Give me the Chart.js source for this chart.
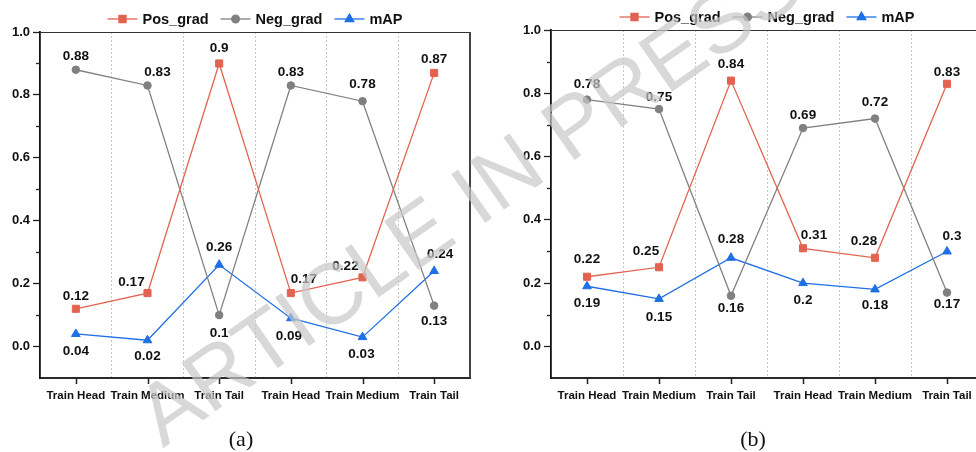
<!DOCTYPE html>
<html>
<head>
<meta charset="utf-8">
<script src="https://cdn.jsdelivr.net/npm/chart.js@4.4.0/dist/chart.umd.min.js"></script>
<style>
  html, body { margin: 0; padding: 0; background: #fff; }
  body { width: 976px; height: 452px; overflow: hidden; position: relative; }
  .panel { position: absolute; top: 0; height: 452px; }
  #panelA { left: 0; width: 490px; }
  #panelB { left: 511px; width: 480px; }
  .cap { position: absolute; top: 426px; transform: translateX(-50%);
         font-family: "Liberation Serif", "DejaVu Serif", serif; font-size: 22px; color: #111; line-height: 26px; }
  #stamp { position: absolute; left: 468px; top: 198px; white-space: nowrap;
           transform: translate(-50%, -50%) rotate(-35deg);
           font-family: "Liberation Sans", Arial, sans-serif; font-size: 86px; font-weight: 400;
           color: rgba(200, 200, 200, 0.7); pointer-events: none; z-index: 5; line-height: 1; }
</style>
</head>
<body>
<div class="panel" id="panelA"><canvas id="chartA" width="490" height="452"></canvas></div>
<div class="panel" id="panelB"><canvas id="chartB" width="480" height="452"></canvas></div>
<div class="cap" style="left:241px">(a)</div>
<div class="cap" style="left:753px">(b)</div>
<div id="stamp">ARTICLE IN PRESS</div>
<script>
// Categories and tick labels shared by both panels
const categories = ['Train Head', 'Train Medium', 'Train Tail', 'Train Head', 'Train Medium', 'Train Tail'];
const yTickValues = [0.0, 0.2, 0.4, 0.6, 0.8, 1.0];
const yMinorValues = [0.1, 0.3, 0.5, 0.7, 0.9];

// Panel (a)
const posGradA = [0.12, 0.17, 0.9, 0.17, 0.22, 0.87];
const negGradA = [0.88, 0.83, 0.1, 0.83, 0.78, 0.13];
const mapA     = [0.04, 0.02, 0.26, 0.09, 0.03, 0.24];

// Panel (b)
const posGradB = [0.22, 0.25, 0.84, 0.31, 0.28, 0.83];
const negGradB = [0.78, 0.75, 0.16, 0.69, 0.72, 0.17];
const mapB     = [0.19, 0.15, 0.28, 0.2, 0.18, 0.3];

// Value-label placement (dx, dy from the point) for each series
const labelShiftA = {
  pos: [[0,-13],[-16,-11],[0,-15],[13,-14],[-17,-11],[0,-14]],
  neg: [[0,-13],[10,-13],[0,18],[0,-13],[0,-17],[0,16]],
  map: [[0,17],[0,16],[0,-17],[-2,18],[-1,17],[6,-17]]
};
const labelShiftB = {
  pos: [[0,-17],[-13,-16],[0,-16],[11,-13],[-11,-17],[0,-12]],
  neg: [[0,-15],[0,-12],[0,13],[0,-13],[0,-16],[0,12]],
  map: [[0,17],[0,18],[0,-19],[0,17],[0,16],[5,-15]]
};

const RED = '#E2634F', GRAY = '#808080', BLUE = '#1F6FE5';
const FONT = '"Liberation Sans", Arial, sans-serif';

// Axis decorations: minor y ticks, x ticks at category centres, top/right frame
const framePlugin = {
  id: 'frame',
  afterDraw(chart) {
    const { ctx, chartArea: a, scales: { x, y } } = chart;
    ctx.save();
    ctx.strokeStyle = '#222';
    ctx.lineWidth = 1.3;
    yMinorValues.forEach(v => {
      const py = Math.round(y.getPixelForValue(v)) + 0.5;
      ctx.beginPath(); ctx.moveTo(a.left - 4, py); ctx.lineTo(a.left, py); ctx.stroke();
    });
    ctx.lineWidth = 1.5;
    categories.forEach((c, i) => {
      const px = Math.round(x.getPixelForValue(i)) + 0.5;
      ctx.beginPath(); ctx.moveTo(px, a.bottom); ctx.lineTo(px, a.bottom + 6); ctx.stroke();
    });
    ctx.strokeStyle = '#333';
    ctx.lineWidth = 1.2;
    ctx.beginPath(); ctx.moveTo(a.left, a.top + 0.5); ctx.lineTo(a.right, a.top + 0.5); ctx.stroke();
    ctx.strokeStyle = '#444';
    ctx.lineWidth = 2;
    ctx.beginPath(); ctx.moveTo(a.right, a.top); ctx.lineTo(a.right, a.bottom); ctx.stroke();
    ctx.restore();
  }
};

// Value labels next to every point
const valueLabelPlugin = {
  id: 'valueLabels',
  afterDatasetsDraw(chart) {
    const { ctx } = chart;
    ctx.save();
    ctx.font = 'bold 13.5px ' + FONT;
    ctx.fillStyle = '#111';
    ctx.textAlign = 'center';
    ctx.textBaseline = 'middle';
    chart.data.datasets.forEach((ds, di) => {
      const meta = chart.getDatasetMeta(di);
      meta.data.forEach((pt, i) => {
        const [dx, dy] = ds.labelShift[i];
        ctx.fillText(String(ds.data[i]), pt.x + dx, pt.y + dy);
      });
    });
    ctx.restore();
  }
};

// Legend: short line with the series marker, then the name
const lineLegendPlugin = {
  id: 'lineLegend',
  afterDraw(chart, args, opts) {
    const { ctx, chartArea: a } = chart;
    ctx.save();
    ctx.font = 'bold 14.5px ' + FONT;
    ctx.textBaseline = 'middle';
    const lineLen = 30, gapText = 5, gapItem = 12;
    const items = chart.data.datasets.map(ds => ({ ds, w: lineLen + gapText + ctx.measureText(ds.label).width }));
    const total = items.reduce((s, it) => s + it.w, 0) + gapItem * (items.length - 1);
    let x = (a.left + a.right) / 2 - total / 2;
    const y = opts.y;
    items.forEach(({ ds, w }) => {
      ctx.strokeStyle = ds.borderColor;
      ctx.lineWidth = 1.3;
      ctx.beginPath(); ctx.moveTo(x, y); ctx.lineTo(x + lineLen, y); ctx.stroke();
      ctx.fillStyle = ds.backgroundColor;
      Chart.helpers.drawPoint(ctx, { pointStyle: ds.pointStyle, radius: ds.pointRadius, rotation: 0, borderWidth: 1 }, x + lineLen / 2, y);
      ctx.fillStyle = '#111';
      ctx.fillText(ds.label, x + lineLen + gapText, y + 0.5);
      x += w + gapItem;
    });
    ctx.restore();
  }
};

function series(label, data, color, style, radius, shift) {
  return {
    label, data, borderColor: color, backgroundColor: color,
    borderWidth: 1.3, pointStyle: style, pointRadius: radius, pointHoverRadius: radius,
    pointBorderWidth: 1, pointBackgroundColor: color, pointBorderColor: color,
    tension: 0, labelShift: shift
  };
}

function buildChart(id, pos, neg, map, shift, topPad, rightPad, legendY) {
  return new Chart(document.getElementById(id), {
    type: 'line',
    data: {
      labels: categories,
      datasets: [
        series('Pos_grad', pos, RED, 'rect', 5, shift.pos),
        series('Neg_grad', neg, GRAY, 'circle', 3.8, shift.neg),
        series('mAP', map, BLUE, 'triangle', 5, shift.map)
      ]
    },
    options: {
      responsive: false,
      animation: false,
      layout: { padding: { top: topPad, right: rightPad, left: 0, bottom: 0 } },
      plugins: { legend: { display: false }, tooltip: { enabled: false }, lineLegend: { y: legendY } },
      scales: {
        x: {
          offset: true,
          grid: {
            offset: true, drawTicks: false, lineWidth: 1,
            color: c => (c.index > 0 && c.index < categories.length) ? '#c6c6c6' : 'rgba(0,0,0,0)'
          },
          border: { display: true, color: '#2a2a2a', width: 2, dash: [2, 2] },
          ticks: { autoSkip: false, maxRotation: 0, minRotation: 0, padding: 11, color: '#111',
                   font: { family: FONT, size: 11.5, weight: 'bold' } },
          afterFit(s) { s.height = 74; }
        },
        y: {
          min: -0.1, max: 1.0,
          afterBuildTicks(s) { s.ticks = yTickValues.map(v => ({ value: v })); },
          grid: { drawOnChartArea: false, drawTicks: true, tickLength: 7, tickWidth: 1.3, tickColor: '#222' },
          border: { display: true, color: '#111', width: 1.8 },
          ticks: { padding: 3, color: '#111', font: { family: FONT, size: 13, weight: 'bold' },
                   callback: v => Number(v).toFixed(1) },
          afterFit(s) { s.width = 40; }
        }
      }
    },
    plugins: [framePlugin, valueLabelPlugin, lineLegendPlugin]
  });
}

buildChart('chartA', posGradA, negGradA, mapA, labelShiftA, 32, 20, 19);
buildChart('chartB', posGradB, negGradB, mapB, labelShiftB, 30, 8, 17);
</script>
</body>
</html>
